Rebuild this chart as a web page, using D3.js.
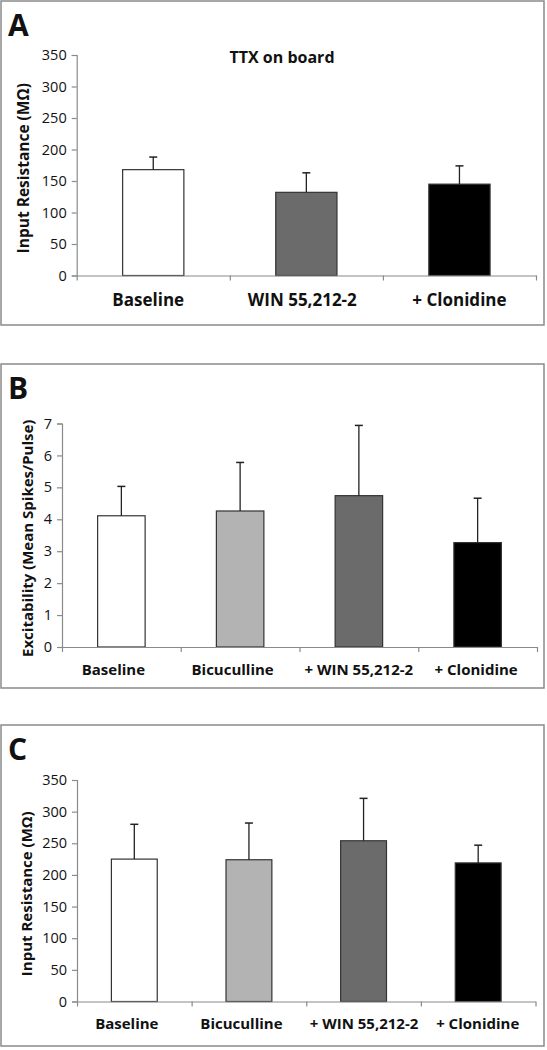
<!DOCTYPE html>
<html><head><meta charset="utf-8">
<script src="https://cdn.jsdelivr.net/npm/d3@7"></script>
<style>
html,body{margin:0;padding:0;background:#fff;}
svg{display:block;}
text{font-family:"Open Sans","Lato",sans-serif;fill:#111;}
</style></head>
<body>
<svg id="chart" width="547" height="1050"></svg>
<script>
// ---- data ----
const catsA = ["Baseline", "WIN 55,212-2", "+ Clonidine"];
const meansA = [168, 132, 145];
const errsA = [20, 31, 29];
const colorsA = ["#ffffff", "#6b6b6b", "#000000"];

const catsB = ["Baseline", "Bicuculline", "+ WIN 55,212-2", "+ Clonidine"];
const meansB = [4.11, 4.26, 4.74, 3.27];
const errsB = [0.92, 1.52, 2.2, 1.39];
const colorsB = ["#ffffff", "#b3b3b3", "#6b6b6b", "#000000"];

const catsC = ["Baseline", "Bicuculline", "+ WIN 55,212-2", "+ Clonidine"];
const meansC = [225, 224, 254, 219];
const errsC = [55, 58, 67, 28];
const colorsC = ["#ffffff", "#b3b3b3", "#6b6b6b", "#000000"];

const ticksA = [0, 50, 100, 150, 200, 250, 300, 350];
const ticksB = [0, 1, 2, 3, 4, 5, 6, 7];
const ticksC = [0, 50, 100, 150, 200, 250, 300, 350];

// ---- layout ----
const panels = [
  {letter:"A", cats:catsA, means:meansA, errs:errsA, colors:colorsA, ticks:ticksA,
   frame:[1,1,543,324], x0:76.7, x1:536, y0:275.5, y1:55, ymax:350,
   ylabel:"Input Resistance (MΩ)", ylabelX:29, title:"TTX on board",
   catY:306, catSize:17, ylabSize:15.5, labelDx:[-5, -4, 0]},
  {letter:"B", cats:catsB, means:meansB, errs:errsB, colors:colorsB, ticks:ticksB,
   frame:[1,364,543,324], x0:62, x1:537, y0:647, y1:423.5, ymax:7,
   ylabel:"Excitability (Mean Spikes/Pulse)", ylabelX:33, title:null,
   catY:675, catSize:15, ylabSize:15, labelDx:[-8, -7.5, 0, -1.5]},
  {letter:"C", cats:catsC, means:meansC, errs:errsC, colors:colorsC, ticks:ticksC,
   frame:[1,725,543,321], x0:77, x1:535.5, y0:1001.5, y1:780, ymax:350,
   ylabel:"Input Resistance (MΩ)", ylabelX:32, title:null,
   catY:1029, catSize:15, ylabSize:15, labelDx:[-7.5, -7.5, 0.5, -0.5]}
];

const svg = d3.select("#chart");

panels.forEach(p => {
  const g = svg.append("g");
  g.append("rect")
    .attr("x", p.frame[0]).attr("y", p.frame[1])
    .attr("width", p.frame[2]).attr("height", p.frame[3])
    .attr("fill", "#fff").attr("stroke", "#8a8a8a").attr("stroke-width", 1.5);

  g.append("text").attr("x", 8).attr("y", p.frame[1] + 35)
    .attr("font-family", "Liberation Sans, Arial, sans-serif")
    .attr("font-weight", "bold").attr("font-size", 30).text(p.letter);

  const y = d3.scaleLinear().domain([0, p.ymax]).range([p.y0, p.y1]);
  const x = d3.scaleBand().domain(p.cats).range([p.x0, p.x1])
    .paddingInner(0.6).paddingOuter(0.3);
  const xb = d3.scaleLinear().domain([0, p.cats.length]).range([p.x0, p.x1]);

  // y axis
  const ya = g.append("g").attr("transform", `translate(${p.x0},0)`)
    .call(d3.axisLeft(y).tickValues(p.ticks).tickSize(5).tickPadding(5).tickFormat(d3.format("d")));
  ya.select(".domain").attr("stroke", "#8a8a8a").attr("stroke-width", 1.2);
  ya.selectAll(".tick line").attr("stroke", "#8a8a8a").attr("stroke-width", 1.2);
  ya.selectAll(".tick text").attr("font-size", 14.5).attr("fill", "#111")
    .attr("font-family", "Open Sans, sans-serif");

  // bars
  g.selectAll(".bar").data(p.means).enter().append("rect")
    .attr("x", (d, i) => x(p.cats[i]))
    .attr("y", d => y(d))
    .attr("width", x.bandwidth())
    .attr("height", d => y(0) - y(d))
    .attr("fill", (d, i) => p.colors[i])
    .attr("stroke", "#333").attr("stroke-width", 1.2);

  // error bars
  p.means.forEach((m, i) => {
    const cx = x(p.cats[i]) + x.bandwidth() / 2;
    g.append("line").attr("x1", cx).attr("x2", cx)
      .attr("y1", y(m)).attr("y2", y(m + p.errs[i]))
      .attr("stroke", "#222").attr("stroke-width", 1.3);
    g.append("line").attr("x1", cx - 4).attr("x2", cx + 4)
      .attr("y1", y(m + p.errs[i])).attr("y2", y(m + p.errs[i]))
      .attr("stroke", "#222").attr("stroke-width", 1.5);
  });

  // x axis
  const xa = g.append("g").attr("transform", `translate(0,${p.y0})`)
    .call(d3.axisBottom(xb).tickValues(d3.range(p.cats.length + 1)).tickSize(5).tickSizeOuter(0).tickFormat(""));
  xa.select(".domain").attr("stroke", "#8a8a8a").attr("stroke-width", 1.2);
  xa.selectAll(".tick line").attr("stroke", "#8a8a8a").attr("stroke-width", 1.2);

  // category labels
  g.selectAll(".cat").data(p.cats).enter().append("text")
    .attr("x", (d, i) => x(d) + x.bandwidth() / 2 + p.labelDx[i])
    .attr("y", p.catY)
    .attr("text-anchor", "middle")
    .attr("font-weight", "bold").attr("font-size", p.catSize)
    .text(d => d);

  // y label
  const ymid = (p.y0 + p.y1) / 2 + 3;
  g.append("text")
    .attr("transform", `translate(${p.ylabelX},${ymid}) rotate(-90)`)
    .attr("text-anchor", "middle")
    .attr("font-weight", "bold").attr("font-size", p.ylabSize)
    .text(p.ylabel);

  if (p.title) {
    g.append("text").attr("x", 282).attr("y", 63)
      .attr("text-anchor", "middle")
      .attr("font-weight", "bold").attr("font-size", 16)
      .text(p.title);
  }
});
</script>
</body></html>
